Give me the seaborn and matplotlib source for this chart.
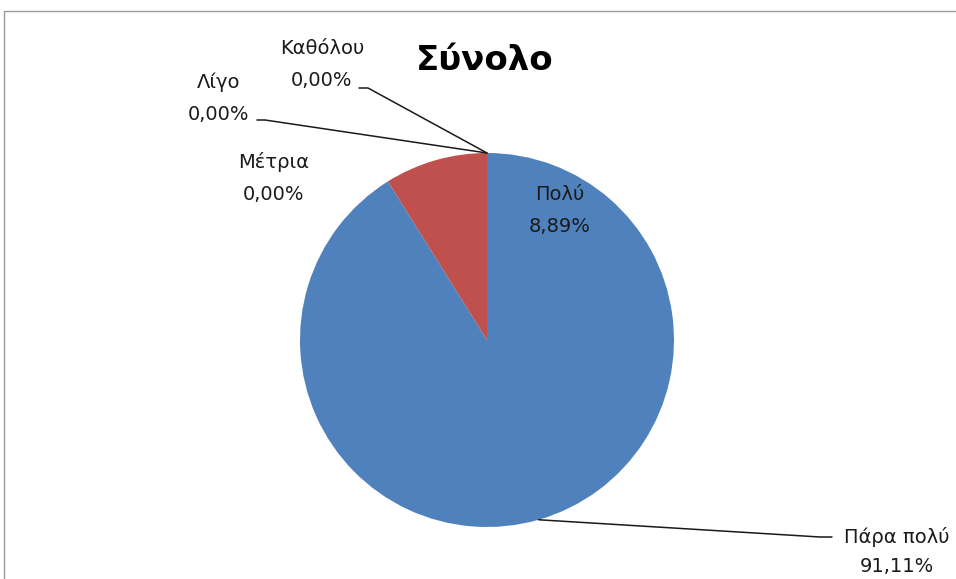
import numpy as np
import matplotlib
matplotlib.use("Agg")
import matplotlib.pyplot as plt
import seaborn as sns
from matplotlib.patches import Rectangle

sns.set_theme(style="white")
plt.rcParams['font.family'] = ['DejaVu Sans']

# data
categories = ["Πάρα πολύ", "Πολύ", "Μέτρια", "Λίγο", "Καθόλου"]
shares = [91.11, 8.89, 0.0, 0.0, 0.0]
colors = ["#4F81BD", "#C0504D", "#9BBB59", "#8064A2", "#4BACC6"]
title = "Σύνολο"

# label placement (pixel coords, y from top): text centre x, name y, value y
label_pos = {
    "Πάρα πολύ": (897, 537, 567),
    "Πολύ": (560, 195, 227),
    "Μέτρια": (274, 162, 195),
    "Λίγο": (219, 82, 114),
    "Καθόλου": (322, 48, 80),
}
# leader line start (end of label text) and short horizontal stub
leaders = {
    "Πάρα πολύ": ((832, 537), (820, 537)),
    "Λίγο": ((257, 120), (265, 120)),
    "Καθόλου": ((359, 88), (368, 88)),
}

W, H = 956, 579
fig = plt.figure(figsize=(W / 100, H / 100), dpi=100)
ax = fig.add_axes([0, 0, 1, 1])

cx, cy, r = 487, H - 340, 187
wedges, _ = ax.pie(shares, colors=colors, startangle=90, counterclock=False,
                   center=(cx, cy), radius=r, wedgeprops=dict(linewidth=0))

ax.set_xlim(0, W)
ax.set_ylim(0, H)
ax.set_aspect("equal")
ax.set_axis_off()

# chart frame
ax.add_patch(Rectangle((4, -20), W + 20, H - 11 + 20, fill=False,
                       edgecolor="#999999", linewidth=1.0))

ax.text(485, H - 61, title, ha="center", va="center", fontsize=24.5,
        fontweight="bold", color="black")

def fmt(v):
    return f"{v:.2f}".replace(".", ",") + "%"

for name, val, w in zip(categories, shares, wedges):
    x, y1, y2 = label_pos[name]
    ax.text(x, H - y1, name, ha="center", va="center", fontsize=14, color="#1a1a1a")
    ax.text(x, H - y2, fmt(val), ha="center", va="center", fontsize=14, color="#1a1a1a")
    if name in leaders:
        mid = np.deg2rad((w.theta1 + w.theta2) / 2)
        ex, ey = cx + r * np.cos(mid), cy + r * np.sin(mid)
        (sx, sy), (hx, hy) = leaders[name]
        ax.plot([sx, hx, ex], [H - sy, H - hy, ey], color="#1a1a1a", linewidth=1.1)

fig.savefig("out.png", dpi=100)
